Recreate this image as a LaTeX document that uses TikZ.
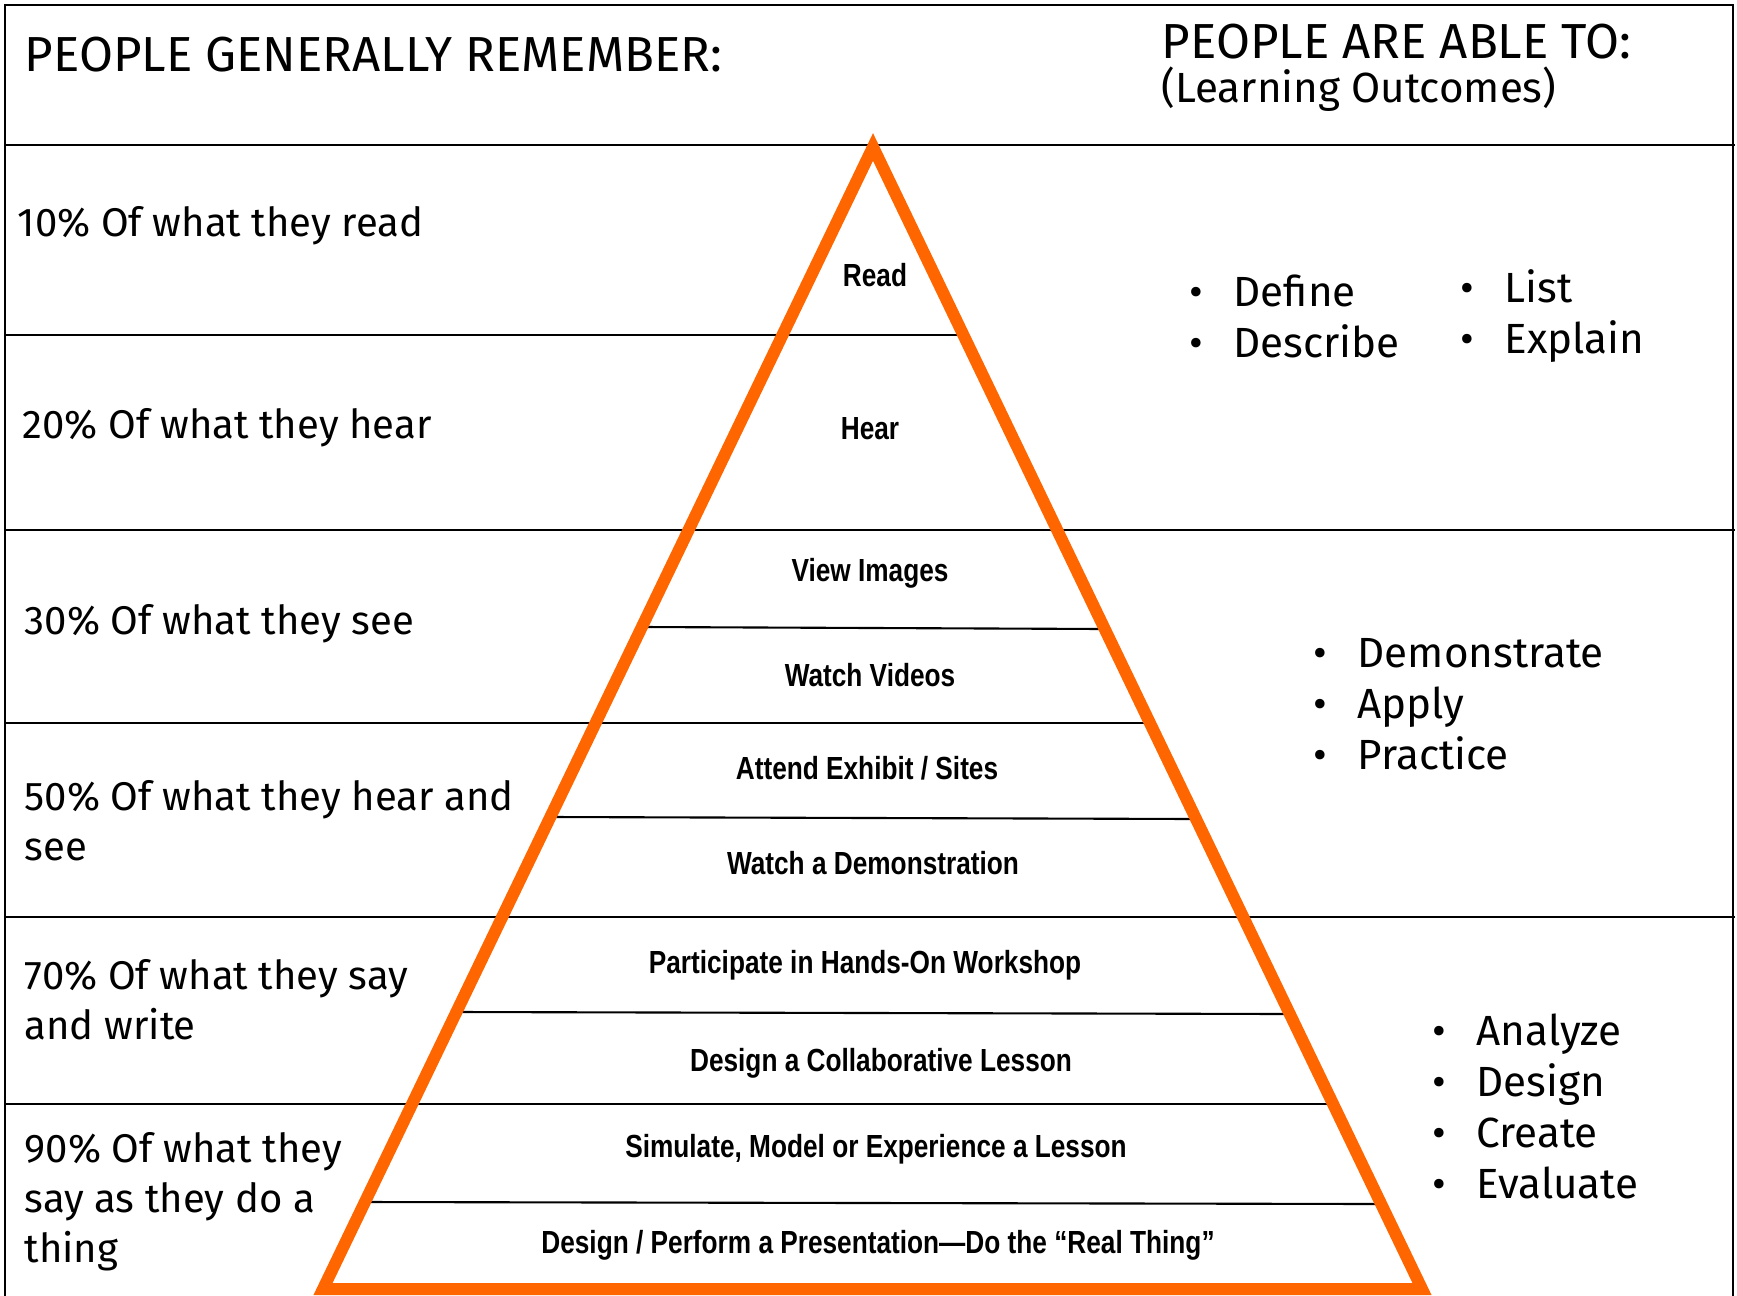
\documentclass[tikz,border=0pt]{standalone}
\usepackage{fontspec}
\usetikzlibrary{positioning}
\newfontfamily\handfont{Fira Sans}
\newfontfamily\narrowfont[FakeStretch=0.82]{Liberation Sans}
\definecolor{pyramid}{HTML}{FF6600}
\tikzstyle{header} = [anchor=west, inner sep=0pt, font=\handfont\fontsize{14}{16}\selectfont]
\tikzstyle{subheader} = [anchor=west, inner sep=0pt, font=\handfont\fontsize{12}{14}\selectfont]
\tikzstyle{percent} = [anchor=west, inner sep=0pt, align=left, font=\handfont\fontsize{11.4}{14.2}\selectfont]
\tikzstyle{outcome} = [anchor=west, inner sep=0pt, align=left, font=\handfont\fontsize{12}{14.5}\selectfont]
\tikzstyle{activity} = [inner sep=0pt, font=\narrowfont\bfseries\fontsize{9.1}{10}\selectfont]
\tikzstyle{rule} = [line width=0.6pt]
\tikzstyle{edge} = [draw=pyramid, line width=1.2mm, line join=miter]
\newcommand{\bul}{\makebox[4.4mm][l]{\textbullet}}

\begin{document}
\begin{tikzpicture}[x=0.1mm, y=-0.1mm]
\useasboundingbox (0,0) rectangle (1737,1295);
\coordinate (apex) at (873,147);
\coordinate (baseL) at (323,1289);
\coordinate (baseR) at (1422,1289);

\draw [rule] (5,1300) -- (5,5) -- (1733,5) -- (1733,1300);
\draw [rule] (5,145) -- (1735,145);
\draw [rule] (5,335) -- (963,335);
\draw [rule] (5,530) -- (1735,530);
\draw [rule] (5,723) -- (1150,723);
\draw [rule] (5,917) -- (1735,917);
\draw [rule] (5,1104) -- (1333,1104);
\draw [rule] (642,627) -- (1104,629);
\draw [rule] (550,817) -- (1196,819);
\draw [rule] (457,1012) -- (1289,1014);
\draw [rule] (365,1202) -- (1381,1204);
\draw [edge] (apex) -- (baseL) -- (baseR) -- cycle;

\node (headl) [header] at (24,55) {PEOPLE GENERALLY REMEMBER:};
\node (headr) [header] at (1161,42) {PEOPLE ARE ABLE TO:};
\node (learn) [subheader] at (1161,89) {(Learning Outcomes)};

\node (pct10) [percent] at (17,226) {10\% Of what they read};
\node (pct20) [percent] at (22,428) {20\% Of what they hear};
\node (pct30) [percent] at (24,624) {30\% Of what they see};
\node (pct50) [percent] at (24,821) {50\% Of what they hear and\\see};
\node (pct70) [percent] at (24,1000) {70\% Of what they say\\and write};
\node (pct90) [percent] at (24,1202) {90\% Of what they\\say as they do a\\thing};

\node (read) [activity] at (875,275) {Read};
\node (hear) [activity] at (870,429) {Hear};
\node (viewimg) [activity] at (870,573) {View Images};
\node (watchvid) [activity] at (870,675) {Watch Videos};
\node (attend) [activity] at (867,768) {Attend Exhibit / Sites};
\node (watchdemo) [activity] at (873,863) {Watch a Demonstration};
\node (handson) [activity] at (865,965) {Participate in Hands-On Workshop};
\node (collab) [activity] at (881,1063) {Design a Collaborative Lesson};
\node (simulate) [activity] at (876,1149) {Simulate, Model or Experience a Lesson};
\node (perform) [activity] at (878,1245) {Design / Perform a Presentation—Do the “Real Thing”};

\node (recall) [outcome] at (1189,316) {\bul Define\\\bul Describe};
\node (explain) [outcome] at (1460,316) {\bul List\\\bul Explain};
\node (practice) [outcome] at (1313,704) {\bul Demonstrate\\\bul Apply\\\bul Practice};
\node (evaluate) [outcome] at (1432,1106) {\bul Analyze\\\bul Design\\\bul Create\\\bul Evaluate};
\end{tikzpicture}
\end{document}
